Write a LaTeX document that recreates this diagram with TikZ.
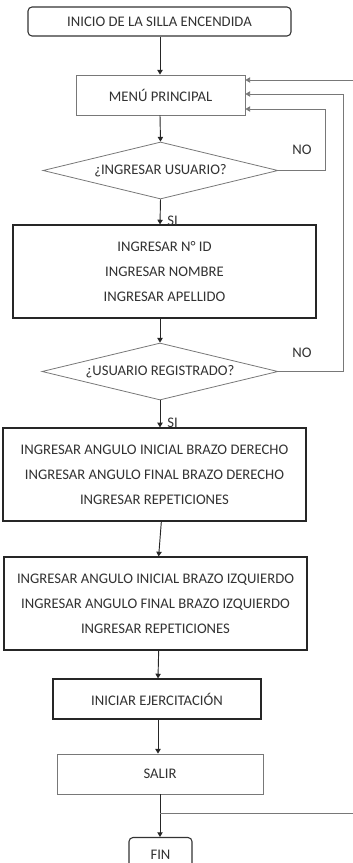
\documentclass[tikz,border=0pt]{standalone}
\usepackage{fontspec}
\setmainfont{Carlito}
\usepackage{tikz}
\usetikzlibrary{positioning,arrows.meta,shapes.geometric,calc}
\usepackage{xcolor}
\definecolor{textgray}{RGB}{50,50,50}
\definecolor{linegray}{RGB}{120,120,120}

\begin{document}
\begin{tikzpicture}[x=0.75pt,y=-0.75pt,
  box/.style={rectangle,draw=linegray,line width=0.6pt,text=textgray,
    font=\fontsize{11}{18.75}\selectfont,align=center,inner sep=0pt},
  thickbox/.style={box,draw=black!85,line width=0.9pt},
  roundbox/.style={box,draw=black!80,line width=0.8pt,rounded corners=3pt},
  decision/.style={diamond,draw=linegray,line width=0.6pt,text=textgray,
    font=\fontsize{11}{13}\selectfont,inner sep=0pt,aspect=4.12},
  lbl/.style={text=textgray,font=\fontsize{11}{13}\selectfont,inner sep=0pt},
  arr/.style={-{Triangle[length=3.5pt,width=4pt]},black!85,line width=0.7pt},
  back/.style={-{Triangle[length=3.5pt,width=4pt]},linegray,line width=0.6pt}
]
\useasboundingbox (0,0) rectangle (353,863);
\coordinate (axis) at (160,0);

\node[roundbox,minimum width=197.25pt,minimum height=21.75pt] (start) at (159.5,21.5) {INICIO DE LA SILLA ENCENDIDA};
\node[box,minimum width=126.75pt,minimum height=30pt] (menu) at (160.5,95) {MENÚ PRINCIPAL};
\node[decision,minimum width=176.25pt,minimum height=42.75pt] (askuser) at (160.5,170.5) {¿INGRESAR USUARIO?};
\node[thickbox,minimum width=227.25pt,minimum height=69.75pt] (userdata) at (164.5,271.5) {INGRESAR N° ID\\INGRESAR NOMBRE\\INGRESAR APELLIDO};
\node[decision,minimum width=177pt,minimum height=42.75pt] (registered) at (160,371.5) {¿USUARIO REGISTRADO?};
\node[thickbox,minimum width=227.25pt,minimum height=69.75pt] (rightarm) at (154.5,474.5) {INGRESAR ANGULO INICIAL BRAZO DERECHO\\INGRESAR ANGULO FINAL BRAZO DERECHO\\INGRESAR REPETICIONES};
\node[thickbox,minimum width=227.25pt,minimum height=69.75pt] (leftarm) at (155.5,603.5) {INGRESAR ANGULO INICIAL BRAZO IZQUIERDO\\INGRESAR ANGULO FINAL BRAZO IZQUIERDO\\INGRESAR REPETICIONES};
\node[thickbox,minimum width=156pt,minimum height=30pt] (exercise) at (157,699) {INICIAR EJERCITACIÓN};
\node[box,minimum width=154.5pt,minimum height=30pt] (quit) at (160,774) {SALIR};
\node[roundbox,minimum width=47.25pt,minimum height=26.25pt] (finish) at (160.5,855) {FIN};

\node[lbl,anchor=west] (si1) at (167,221) {SI};
\node[lbl,anchor=west] (si2) at (167,423) {SI};
\node[lbl] (no1) at (302,150) {NO};
\node[lbl] (no2) at (302,353) {NO};

\draw[arr] (start.south -| axis) -- (menu.north -| axis);
\draw[arr] (menu.south -| axis) -- (askuser.north);
\draw[arr] (askuser.south) -- (userdata.north -| axis);
\draw[arr] (userdata.south -| axis) -- (registered.north);
\draw[arr] (registered.south) -- (rightarm.north -| axis);
\draw[arr] ([xshift=1pt]rightarm.south -| axis) -- ([xshift=-1pt]leftarm.north -| axis);
\draw[arr] ([xshift=-1pt]leftarm.south -| axis) -- ([xshift=-1.5pt]exercise.north -| axis);
\draw[arr] ([xshift=-1.5pt]exercise.south -| axis) -- ([xshift=-1.5pt]quit.north -| axis);
\draw[arr] (quit.south -| axis) -- (finish.north -| axis);
\coordinate (join) at ($(quit.south -| axis)!0.45!(finish.north -| axis)$);

% return paths
\draw[back] (askuser.east) -- ++(47,0) |- ([yshift=-10.5pt]menu.east);
\draw[back] (registered.east) -- ++(65,0) |- ([yshift=0.75pt]menu.east);
\draw[back] (join) -- ++(202,0) |- ([yshift=11.25pt]menu.east);
\end{tikzpicture}
\end{document}
